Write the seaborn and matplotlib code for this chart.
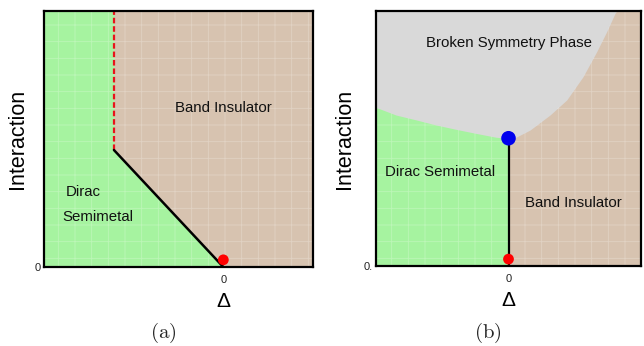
import numpy as np
import pandas as pd
import matplotlib
matplotlib.use("Agg")
import matplotlib.pyplot as plt
import seaborn as sns

sns.set_theme(style="white")
plt.rcParams["font.family"] = ["Liberation Sans", "DejaVu Sans"]
plt.rcParams["mathtext.fontset"] = "cm"
plt.rcParams["hatch.linewidth"] = 0.6

# Panel (a): mass gap vs interaction, with a first-order kink
a_xlim = [-2.0, 1.0]
a_kink = [-1.22, 0.457]          # (Delta, interaction) where the boundary turns vertical
a_crit = [0.0, 0.0]              # non-interacting transition point
a_dot = [0.0, 0.028]

# Panel (b): broken-symmetry dome boundary (Delta, interaction)
b_bound_x = [-1.0, -0.849, -0.698, -0.547, -0.396, -0.245, -0.094, 0.0,
             0.049, 0.162, 0.313, 0.439, 0.562, 0.665, 0.741, 0.804, 0.817]
b_bound_y = [0.622, 0.592, 0.573, 0.553, 0.536, 0.520, 0.505, 0.500,
             0.503, 0.533, 0.592, 0.651, 0.742, 0.840, 0.919, 0.991, 1.0]
b_tricrit = [0.0, 0.501]
b_dot = [0.0, 0.027]

GREEN = "#a6f3a0"
BROWN = "#d7c3b0"
GRAY = "#d9d9d9"
HATCH = (1, 1, 1, 0.25)

fig = plt.figure(figsize=(6.44, 3.46), dpi=100)
W, H = 644, 346


def axes_px(left, top, right, bottom):
    return fig.add_axes([left / W, 1 - bottom / H, (right - left) / W, (bottom - top) / H])


def fill(ax, x, y1, y2, color, z, where=None):
    ax.fill_between(x, y1, y2, where=where, color=color, lw=0, zorder=z)


def texture(ax, x, y1, y2, z):
    ax.fill_between(x, y1, y2, facecolor="none", edgecolor=HATCH, hatch="+", lw=0, zorder=z)


def style(ax, xlim, ytick):
    ax.set_xlim(*xlim)
    ax.set_ylim(0, 1)
    ax.set_xticks([0])
    ax.set_xticklabels(["0"])
    ax.set_yticks([0])
    ax.set_yticklabels([ytick])
    ax.tick_params(axis="both", labelsize=8, length=3, width=0.8, pad=3,
                   direction="out", colors="black", labelcolor="#222222")
    ax.tick_params(axis="y", length=0, pad=2)
    for s in ax.spines.values():
        s.set_color("black")
        s.set_linewidth(1.6)
        s.set_zorder(10)
    ax.set_ylabel("Interaction", fontsize=15.5, color="black")
    ax.set_xlabel("Δ", fontsize=15, color="black")


def segment(ax, xs, ys, **kw):
    df = pd.DataFrame({"x": xs, "y": ys})
    sns.lineplot(data=df, x="x", y="y", ax=ax, estimator=None, sort=False, **kw)


# ---------------- (a) ----------------
axa = axes_px(44, 11, 313, 267)
xa = np.linspace(a_xlim[0], a_xlim[1], 3001)
boundary_a = np.where(xa <= a_kink[0], 1.0,
                      np.clip(a_kink[1] * (a_crit[0] - xa) / (a_crit[0] - a_kink[0]), 0, None))
fill(axa, xa, 0, 1, BROWN, 1)
fill(axa, xa, 0, boundary_a, GREEN, 2)
texture(axa, xa, 0, 1, 3)

segment(axa, [a_kink[0], a_kink[0]], [a_kink[1], 1.0], color="#e8141b",
        lw=1.6, linestyle=(0, (2.5, 1.3)), zorder=5)
segment(axa, [a_kink[0], a_crit[0]], [a_kink[1], a_crit[1]], color="black",
        lw=1.8, zorder=5)
sns.scatterplot(x=[a_dot[0]], y=[a_dot[1]], ax=axa, color="#ff0000", s=60,
                edgecolor="none", zorder=6, clip_on=False)

axa.text(0.0, 0.621, "Band Insulator", ha="center", va="center", fontsize=10.8, color="#111111", zorder=7)
axa.text(-1.76, 0.293, "Dirac", ha="left", va="center", fontsize=10.8, color="#111111", zorder=7)
axa.text(-1.79, 0.195, "Semimetal", ha="left", va="center", fontsize=10.8, color="#111111", zorder=7)
style(axa, a_xlim, "0")
axa.yaxis.set_label_coords(-0.06, 0.5)
axa.xaxis.set_label_coords(0.665, -0.098)

# ---------------- (b) ----------------
axb = axes_px(376, 11, 641, 266)
xb = np.linspace(-1, 1, 3001)
dome = np.minimum(np.interp(xb, b_bound_x, b_bound_y, right=1.0), 1.0)
fill(axb, xb, 0, 1, GRAY, 1)
fill(axb, xb, 0, dome, BROWN, 2, where=xb >= 0)
fill(axb, xb, 0, dome, GREEN, 2, where=xb <= 0)
texture(axb, xb, 0, dome, 3)

segment(axb, [0, 0], [0, b_tricrit[1]], color="black", lw=1.6, zorder=5)
sns.scatterplot(x=[b_tricrit[0]], y=[b_tricrit[1]], ax=axb, color="#0000ee", s=110,
                edgecolor="none", zorder=6)
sns.scatterplot(x=[b_dot[0]], y=[b_dot[1]], ax=axb, color="#ff0000", s=60,
                edgecolor="none", zorder=6, clip_on=False)

axb.text(0.0, 0.875, "Broken Symmetry Phase", ha="center", va="center", fontsize=10.8, color="#111111", zorder=7)
axb.text(-0.517, 0.369, "Dirac Semimetal", ha="center", va="center", fontsize=10.8, color="#111111", zorder=7)
axb.text(0.49, 0.247, "Band Insulator", ha="center", va="center", fontsize=10.8, color="#111111", zorder=7)
style(axb, [-1, 1], "0.")
axb.yaxis.set_label_coords(-0.079, 0.5)
axb.xaxis.set_label_coords(0.5, -0.098)

fig.text(163 / W, 1 - 333 / H, r"$\mathrm{(a)}$", ha="center", va="center", fontsize=15)
fig.text(488 / W, 1 - 333 / H, r"$\mathrm{(b)}$", ha="center", va="center", fontsize=15)

fig.savefig("out.png", dpi=100)
